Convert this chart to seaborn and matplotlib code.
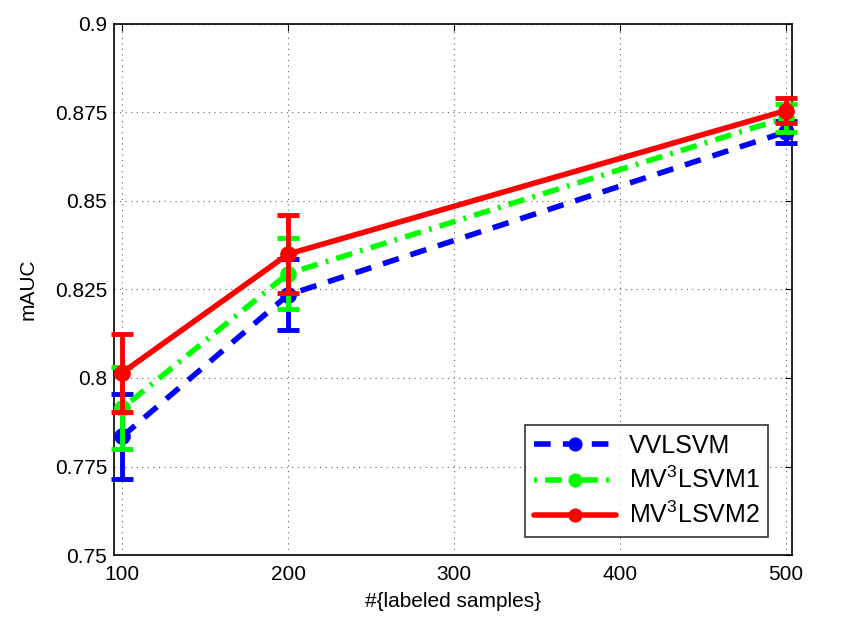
import numpy as np
import pandas as pd
import matplotlib
matplotlib.use('Agg')
import matplotlib.pyplot as plt
import seaborn as sns

# Valores
samples = [100, 200, 500]
vvlsvm = [0.7835, 0.8235, 0.8695]
vvlsvm_err = [0.012, 0.010, 0.003]
mv3lsvm1 = [0.7915, 0.8295, 0.8735]
mv3lsvm1_err = [0.0115, 0.010, 0.004]
mv3lsvm2 = [0.8015, 0.835, 0.8755]
mv3lsvm2_err = [0.011, 0.011, 0.0035]
methods = ['VVLSVM', r'MV$^3$LSVM1', r'MV$^3$LSVM2']

df = pd.DataFrame({
    'samples': samples * 3,
    'mAUC': vvlsvm + mv3lsvm1 + mv3lsvm2,
    'err': vvlsvm_err + mv3lsvm1_err + mv3lsvm2_err,
    'method': [m for m in methods for _ in samples],
})

sns.set_style('white')
plt.rcParams['font.family'] = ['Liberation Sans', 'DejaVu Sans']
plt.rcParams['mathtext.fontset'] = 'custom'
plt.rcParams['mathtext.rm'] = 'Liberation Sans'
plt.rcParams['text.color'] = 'black'
plt.rcParams['axes.labelcolor'] = 'black'
plt.rcParams['xtick.color'] = 'black'
plt.rcParams['ytick.color'] = 'black'

colors = {methods[0]: '#0000ff', methods[1]: '#00ff00', methods[2]: '#ff0000'}
dashes = {methods[0]: (3, 2.2), methods[1]: (0.5, 1.5, 3, 1.5), methods[2]: ''}

fig = plt.figure(figsize=(8.51, 6.27), dpi=100)
ax = fig.add_axes([0.134, 0.1148, 0.797, 0.847])

sns.lineplot(data=df, x='samples', y='mAUC', hue='method', style='method',
             palette=colors, dashes=dashes, markers={m: 'o' for m in methods},
             markersize=12, markeredgewidth=0, linewidth=4, ax=ax, errorbar=None)
series_lines = list(ax.lines)
for i, ln in enumerate(series_lines):
    ln.set_clip_on(False)
    ln.set_zorder(3 + i)

# cada serie: barra de error bajo su linea, encima de la serie anterior
for i, m in enumerate(methods):
    sub = df[df['method'] == m]
    eb = ax.errorbar(sub['samples'], sub['mAUC'], yerr=sub['err'], fmt='none',
                     ecolor=colors[m], elinewidth=3.5, capsize=8, capthick=3.5)
    for art in list(eb.lines[1]) + list(eb.lines[2]):
        art.set_clip_on(False)
        art.set_zorder(2.9 + i)

ax.set_xlim(95, 504)
ax.set_ylim(0.75, 0.9)
ax.set_xticks([100, 200, 300, 400, 500])
ax.set_yticks([0.75, 0.775, 0.8, 0.825, 0.85, 0.875, 0.9])
ax.set_yticklabels(['0.75', '0.775', '0.8', '0.825', '0.85', '0.875', '0.9'])
ax.tick_params(direction='in', labelsize=15, length=5, top=True, right=True)
ax.tick_params(axis='x', pad=7)
ax.tick_params(axis='y', pad=5)
ax.grid(True, linestyle=(0, (1, 4)), color='#666666', linewidth=0.8)
for s in ax.spines.values():
    s.set_color('black')
    s.set_linewidth(1.2)

ax.set_xlabel('#{labeled samples}', fontsize=15, labelpad=6)
ax.set_ylabel('mAUC', fontsize=15, labelpad=12)

leg = ax.legend(loc='lower right', fontsize=18, frameon=True, fancybox=False,
                edgecolor='black', handlelength=3.3, borderpad=0.35, labelspacing=0.35,
                handletextpad=0.5, bbox_to_anchor=(0.983, 0.01), markerscale=0.85)
leg.get_frame().set_linewidth(1.2)
leg.set_zorder(10)

plt.savefig('out.png', dpi=100)
